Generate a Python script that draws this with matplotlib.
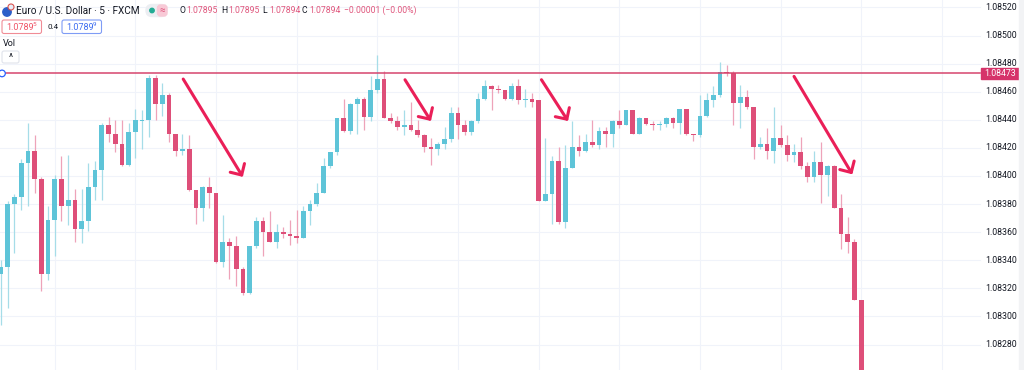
import numpy as np
import matplotlib.pyplot as plt
from matplotlib.patches import FancyBboxPatch, Circle, FancyArrowPatch, Rectangle

# EUR/USD 5 min candles, values in points above 1.08000 (1 point = 0.00001)
base = 1.08
opens = [330, 335, 380, 385, 409, 418, 398, 330, 369, 398, 379, 383, 362, 368, 392, 404,
         436, 430, 423, 408, 431, 439, 440, 470, 451, 458, 430, 418, 419, 390, 377, 392,
         388, 339, 353, 350, 334, 317, 350, 368, 360, 353, 360, 359, 357, 356, 375, 380,
         388, 407, 417, 441, 432, 451, 455, 442, 461, 469, 441, 439, 435, 436, 433, 429,
         421, 419, 423, 426, 445, 436, 431, 439, 455, 464, 462, 461, 455, 464, 454, 455,
         454, 382, 387, 411, 367, 406, 421, 418, 424, 422, 432, 430, 439, 436, 447, 430,
         441, 437, 436, 437, 441, 438, 448, 430, 429, 443, 454, 458, 474, 473, 452, 456,
         449, 421, 423, 418, 427, 422, 415, 417, 407, 399, 410, 401, 407, 377, 359, 353,
         312]
highs = [340, 382, 387, 412, 438, 429, 399, 379, 401, 414, 415, 391, 391, 409, 411, 438,
         442, 440, 440, 438, 448, 447, 472, 472, 466, 459, 430, 430, 429, 390, 393, 399,
         388, 372, 356, 357, 335, 350, 371, 371, 375, 366, 364, 369, 376, 379, 383, 395,
         413, 417, 441, 455, 452, 456, 456, 471, 486, 475, 445, 443, 447, 453, 440, 430,
         427, 424, 435, 449, 449, 440, 440, 459, 468, 465, 465, 461, 466, 469, 462, 459,
         454, 427, 414, 421, 422, 439, 429, 430, 440, 435, 435, 440, 447, 447, 447, 442,
         441, 439, 439, 442, 442, 448, 448, 430, 458, 459, 464, 481, 479, 475, 465, 461,
         449, 428, 434, 449, 436, 429, 423, 428, 410, 418, 424, 408, 408, 387, 371, 355,
         312]
lows = [294, 306, 345, 376, 379, 388, 318, 326, 343, 368, 365, 353, 352, 361, 383, 383,
        424, 417, 407, 407, 413, 419, 428, 440, 443, 424, 414, 415, 389, 366, 368, 377,
        338, 335, 327, 322, 315, 316, 349, 343, 353, 349, 356, 351, 352, 356, 365, 379,
        388, 406, 415, 431, 430, 430, 433, 439, 459, 441, 438, 433, 429, 432, 428, 417,
        408, 415, 419, 424, 426, 429, 429, 438, 454, 447, 459, 454, 454, 451, 449, 449,
        382, 382, 366, 366, 363, 406, 414, 417, 421, 419, 421, 421, 434, 436, 430, 430,
        436, 433, 433, 435, 434, 430, 429, 425, 428, 442, 449, 456, 471, 436, 434, 448,
        412, 419, 412, 409, 421, 411, 410, 405, 396, 396, 381, 386, 377, 348, 345, 312,
        250]
closes = [335, 380, 385, 409, 418, 398, 330, 369, 398, 379, 383, 362, 368, 392, 404, 436,
          430, 423, 408, 431, 440, 440, 470, 451, 458, 430, 418, 419, 390, 377, 392, 388,
          339, 353, 350, 334, 317, 350, 368, 360, 353, 360, 359, 357, 356, 375, 380, 388,
          407, 417, 441, 432, 451, 455, 442, 461, 469, 441, 439, 435, 436, 433, 429, 421,
          419, 423, 426, 445, 436, 431, 439, 455, 464, 462, 461, 455, 464, 454, 455, 453,
          382, 387, 411, 367, 406, 421, 418, 424, 422, 432, 430, 439, 436, 447, 430, 441,
          437, 436, 437, 441, 438, 448, 430, 429, 443, 454, 458, 474, 473, 452, 456, 449,
          421, 423, 418, 427, 422, 415, 417, 407, 399, 410, 401, 407, 377, 359, 353, 312,
          250]

level = 1.08473
price_ticks = [1.08280, 1.08300, 1.08320, 1.08340, 1.08360, 1.08380, 1.08400,
               1.08420, 1.08440, 1.08460, 1.08480, 1.08500, 1.08520]

# hand drawn arrows (candle index / price)
arrow_x0 = [26.9, 59.9, 80.2, 117.8]
arrow_y0 = [1.084707, 1.084702, 1.084702, 1.084726]
arrow_x1 = [36.2, 64.2, 84.6, 126.9]
arrow_y1 = [1.083977, 1.084375, 1.084375, 1.083995]

up_col = '#5ec4d8'
dn_col = '#de4f79'
up_wick = '#a6dde8'
dn_wick = '#eea3b9'
grid_col = '#f0f3fa'

o = base + np.array(opens) / 1e5
h = base + np.array(highs) / 1e5
l = base + np.array(lows) / 1e5
c = base + np.array(closes) / 1e5
idx = np.arange(len(o))
bull = c >= o

W, H = 1024, 370
fig = plt.figure(figsize=(W / 100, H / 100), dpi=100)
fig.patch.set_facecolor('white')
ax = fig.add_axes([0, 0, 1, 1])
ax.set_xlim(-1 / 6.72, (W - 1) / 6.72)
ax.set_ylim(1.082619, 1.085253)
ax.axis('off')

# grid
chart_right = 980 / W
for p in price_ticks:
    ax.axhline(p, xmin=0, xmax=chart_right, color=grid_col, lw=0.8, zorder=0)
for g in range(8, 141, 12):
    ax.axvline(g, color=grid_col, lw=0.8, zorder=0)

# candles
ax.vlines(idx[bull], l[bull], h[bull], color=up_wick, lw=0.9, zorder=2)
ax.vlines(idx[~bull], l[~bull], h[~bull], color=dn_wick, lw=0.9, zorder=2)
body_lo = np.minimum(o, c)
body_h = np.maximum(np.abs(c - o), 0.000008)
ax.bar(idx, body_h, bottom=body_lo, width=0.7,
       color=np.where(bull, up_col, dn_col), linewidth=0, zorder=3)

# resistance line
ax.axhline(level, xmin=0, xmax=chart_right, color='#d6456d', lw=1.1, zorder=4)

# arrows
for x0, y0, x1, y1 in zip(arrow_x0, arrow_y0, arrow_x1, arrow_y1):
    ax.add_patch(FancyArrowPatch((x0, y0), (x1, y1),
                                 arrowstyle='->,head_length=0.6,head_width=0.6',
                                 mutation_scale=10, color='#ea1f58', lw=2.2,
                                 capstyle='round', joinstyle='round', zorder=5))

# overlay in pixel units for the UI parts
ov = fig.add_axes([0, 0, 1, 1], zorder=10)
ov.set_xlim(0, W)
ov.set_ylim(H, 0)
ov.axis('off')
ov.patch.set_alpha(0)

font = 'Roboto'
txt = '#131722'
red_txt = '#e0577d'

# price scale
for p in price_ticks:
    ov.text(1001, 176 - (p - 1.084) / 1e-5 * 1.405, f'{p:.5f}', fontsize=6.3,
            color=txt, ha='center', va='center', family=font)
ly = 176 - (level - 1.084) / 1e-5 * 1.405
ov.add_patch(Rectangle((981, ly - 5.5), 38, 11, color='#d6336a', zorder=11))
ov.text(1000, ly, f'{level:.5f}', fontsize=6.3, color='white', ha='center',
        va='center', family=font, zorder=12)
ov.add_patch(Rectangle((1019, 0), 5, H, color='#f2f3f5', zorder=11))
ov.add_patch(Circle((2, ly), 3.3, facecolor='white', edgecolor='#2962ff', lw=0.9, zorder=12))

# legend header
ov.add_patch(Circle((7, 12), 4.2, color='#2b5fc9'))
ov.add_patch(Circle((11, 7), 3, color='#e8eef9', ec='#d9534f', lw=0.8))
ov.text(16, 10.5, 'Euro / U.S. Dollar · 5 · FXCM', fontsize=7.2, color=txt,
        va='center', family=font)
ov.add_patch(FancyBboxPatch((146, 4.5), 21, 12, boxstyle='round,pad=0,rounding_size=6',
                            color='#eceef2'))
ov.add_patch(Circle((152, 10.5), 2.2, color='#22ab94'))
ov.add_patch(FancyBboxPatch((157.5, 5), 9.5, 11, boxstyle='round,pad=0,rounding_size=3',
                            color='#f8c9d6'))
ov.text(162.2, 10.5, '≈', fontsize=7, color='#dd5078', ha='center', va='center',
        family=font)

ohlc = [('O', '1.07895', 179), ('H', '1.07895', 221), ('L', '1.07894', 262),
        ('C', '1.07894', 302)]
for lab, val, x in ohlc:
    ov.text(x, 10.5, lab, fontsize=6.2, color=txt, va='center', family=font)
    ov.text(x + 7, 10.5, val, fontsize=6.2, color=red_txt, va='center', family=font)
ov.text(344, 10.5, '−0.00001 (−0.00%)', fontsize=6.2, color=red_txt, va='center',
        family=font)

ov.add_patch(FancyBboxPatch((2, 20), 39.5, 13.5, boxstyle='round,pad=0,rounding_size=2',
                            facecolor='white', edgecolor='#f08c96', lw=0.8))
ov.text(6, 27, '1.0789', fontsize=6.5, color='#ef5466', va='center', family=font)
ov.text(32.5, 25, '5', fontsize=4.6, color='#ef5466', va='center', family=font)
ov.text(47, 27, '0.4', fontsize=5.8, color=txt, va='center', family=font)
ov.add_patch(FancyBboxPatch((62, 20), 39.5, 13.5, boxstyle='round,pad=0,rounding_size=2',
                            facecolor='white', edgecolor='#7f9cf5', lw=0.8))
ov.text(66, 27, '1.0789', fontsize=6.5, color='#3d6cf0', va='center', family=font)
ov.text(92.5, 25, '9', fontsize=4.6, color='#3d6cf0', va='center', family=font)

ov.text(3, 43.5, 'Vol', fontsize=6.5, color=txt, va='center', family=font)
ov.add_patch(FancyBboxPatch((2, 51), 17, 12, boxstyle='round,pad=0,rounding_size=2',
                            facecolor='white', edgecolor='#e0e3eb', lw=0.8))
ov.text(10.5, 58, '^', fontsize=7, color=txt, ha='center', va='center', family=font)

fig.savefig('out.png', dpi=100)
